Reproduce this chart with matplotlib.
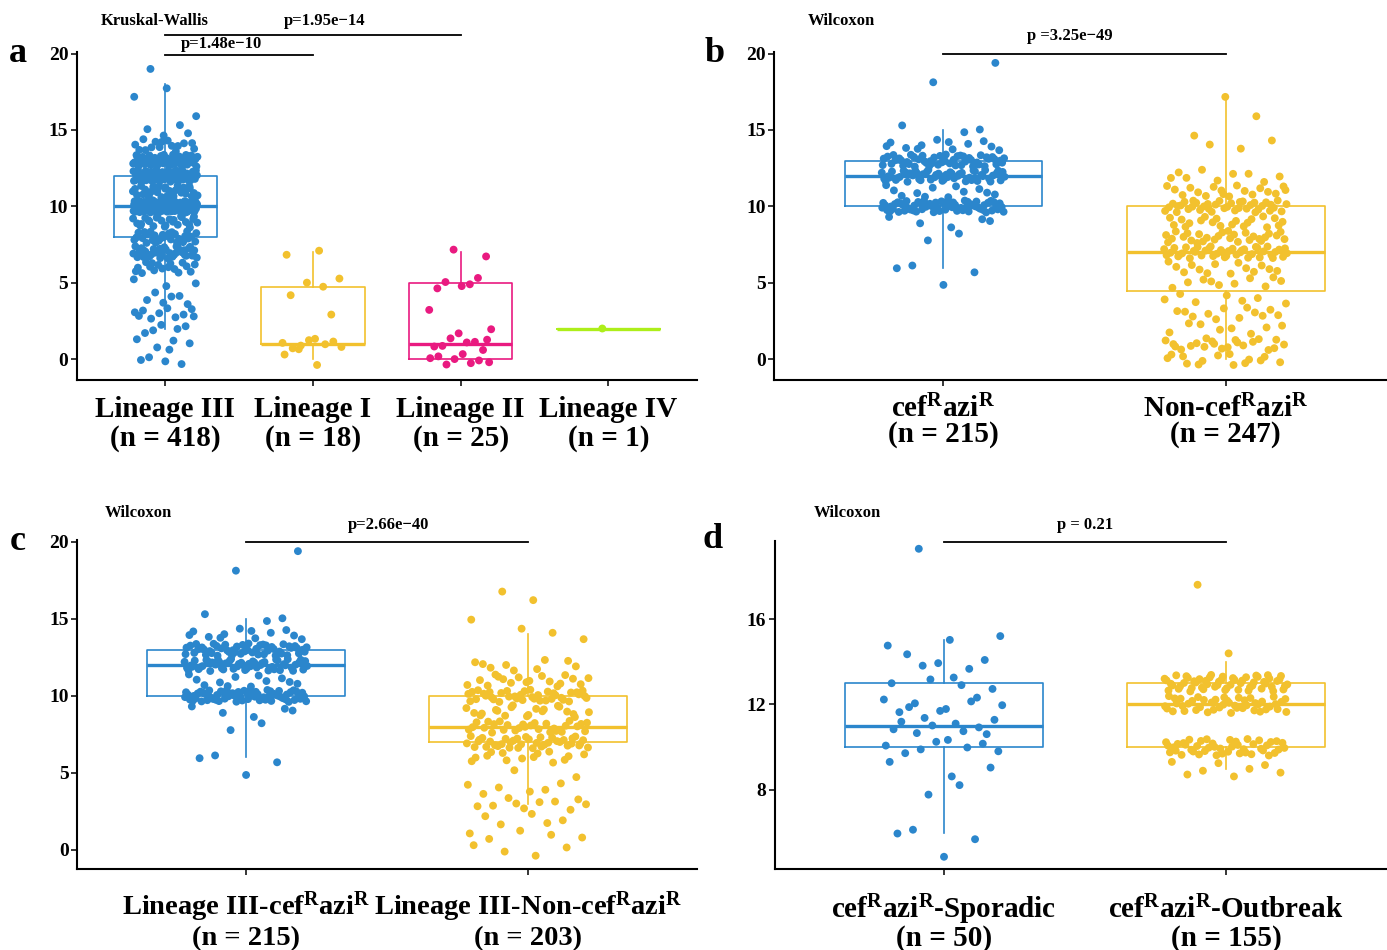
import numpy as np
import matplotlib
matplotlib.use("Agg")
import matplotlib.pyplot as plt
from matplotlib.transforms import blended_transform_factory

plt.rcParams['font.family'] = ['Liberation Serif', 'DejaVu Serif']
plt.rcParams['font.weight'] = 'bold'
plt.rcParams['mathtext.fontset'] = 'custom'
plt.rcParams['mathtext.rm'] = 'Liberation Serif:bold'
plt.rcParams['mathtext.bf'] = 'Liberation Serif:bold'
plt.rcParams['mathtext.it'] = 'Liberation Serif:italic:bold'

# ---------------- data (integer values and their counts) -------------
# Lineage III split by resistance (panel c)
l3_cef_vals = [5, 6, 8, 9, 10, 11, 12, 13, 14, 15, 18, 19]
l3_cef_cnts = [1, 3, 2, 5, 68, 12, 55, 52, 12, 3, 1, 1]          # n = 215
l3_non_vals = [0, 1, 2, 3, 4, 5, 6, 7, 8, 9, 10, 11, 12, 14, 15, 16, 17]
l3_non_cnts = [4, 5, 5, 10, 6, 2, 14, 38, 28, 20, 38, 18, 9, 3, 1, 1, 1]  # n = 203
# Other lineages (panel a)
l1_vals = [0, 1, 3, 4, 5, 7]
l1_cnts = [2, 9, 1, 1, 3, 2]                                     # n = 18
l2_vals = [0, 1, 2, 3, 5, 7]
l2_cnts = [8, 7, 2, 1, 5, 2]                                     # n = 25
l4_vals = [2]
l4_cnts = [1]                                                    # n = 1
# cefRaziR by epidemiology (panel d)
spor_vals = [5, 6, 8, 9, 10, 11, 12, 13, 14, 15, 19]
spor_cnts = [1, 3, 2, 3, 8, 10, 9, 5, 5, 3, 1]                   # n = 50
outb_vals = [9, 10, 12, 13, 14, 18]
outb_cnts = [8, 45, 45, 55, 1, 1]                                # n = 155

SUP = "$^{\\mathrm{R}}$"
lineage_names = ["Lineage III", "Lineage I", "Lineage II", "Lineage IV"]
lineage_n = ["(n = 418)", "(n = 18)", "(n = 25)", "(n = 1)"]
res_names = ["cef" + SUP + "azi" + SUP, "Non-cef" + SUP + "azi" + SUP]
res_n = ["(n = 215)", "(n = 247)"]
l3_names = ["Lineage III-cef" + SUP + "azi" + SUP, "Lineage III-Non-cef" + SUP + "azi" + SUP]
l3_n = ["(n = 215)", "(n = 203)"]
epi_names = ["cef" + SUP + "azi" + SUP + "-Sporadic", "cef" + SUP + "azi" + SUP + "-Outbreak"]
epi_n = ["(n = 50)", "(n = 155)"]

p_a = ["p=1.48e\u221210", "p=1.95e\u221214"]
p_b = "p =3.25e\u221249"
p_c = "p=2.66e\u221240"
p_d = "p = 0.21"

BLUE = "#2B86CC"
YELLOW = "#F2C12E"
PINK = "#E91A80"
GREEN = "#ADEE1A"

W, H = 1387, 950


def expand(vals, cnts):
    return np.repeat(np.asarray(vals, float), cnts)


l3_cef = expand(l3_cef_vals, l3_cef_cnts)
l3_non = expand(l3_non_vals, l3_non_cnts)
l1 = expand(l1_vals, l1_cnts)
l2 = expand(l2_vals, l2_cnts)
l4 = expand(l4_vals, l4_cnts)
l3 = np.sort(np.concatenate([l3_cef, l3_non]))
non_all = np.sort(np.concatenate([l3_non, l1, l2, l4]))
spor = expand(spor_vals, spor_cnts)
outb = expand(outb_vals, outb_cnts)

fig = plt.figure(figsize=(W / 100, H / 100), dpi=100)


def ax_at(left, top, right, bottom):
    return fig.add_axes([left / W, 1 - bottom / H, (right - left) / W, (bottom - top) / H])


def halton(idx, base):
    out = np.zeros(len(idx))
    for j, i in enumerate(idx):
        f, r = 1.0, 0.0
        i = int(i)
        while i > 0:
            f /= base
            r += f * (i % base)
            i //= base
        out[j] = r
    return out


def jitter(values, pos, shift):
    # deterministic display jitter (like geom_jitter: +-0.22 in x, +-0.4 in y)
    k = np.arange(len(values)) + 1 + shift
    gx = halton(k, 2)
    gy = halton(k, 3)
    return pos + (gx - 0.5) * 0.44, values + (gy - 0.5) * 0.8


def panel(ax, groups, colors, names, ns, xlim, ylim, yticks, base1, base2, lsize):
    for i, (g, c) in enumerate(zip(groups, colors)):
        pos = i + 1
        ax.boxplot([g], positions=[pos], widths=0.7, whis=1.5, showfliers=False,
                   patch_artist=False, showcaps=False,
                   boxprops=dict(color=c, linewidth=1.2),
                   whiskerprops=dict(color=c, linewidth=1.2),
                   medianprops=dict(color=c, linewidth=2.4, solid_capstyle='butt'))
        xs, ys = jitter(g, pos, 7 * i)
        ax.scatter(xs, ys, s=32, color=c, edgecolors='none', zorder=3)
    ax.set_xlim(*xlim)
    ax.set_ylim(*ylim)
    ax.set_xticks(range(1, len(groups) + 1))
    ax.set_xticklabels([""] * len(groups))
    tr = blended_transform_factory(ax.transData, fig.transFigure)
    for i, (nm, nn) in enumerate(zip(names, ns)):
        ax.text(i + 1, 1 - base1 / H, nm, transform=tr, ha='center', va='baseline',
                fontsize=lsize, fontweight='bold', clip_on=False)
        ax.text(i + 1, 1 - base2 / H, nn, transform=tr, ha='center', va='baseline',
                fontsize=lsize, fontweight='bold', clip_on=False)
    ax.set_yticks(yticks)
    ax.set_yticklabels([str(t) for t in yticks], fontsize=14, fontweight='bold')
    for s in ['top', 'right']:
        ax.spines[s].set_visible(False)
    for s in ['left', 'bottom']:
        ax.spines[s].set_linewidth(1.5)
    ax.tick_params(axis='both', direction='out', length=4, width=1.1, color='black')
    ax.tick_params(axis='y', pad=2)


def bracket(ax, x1, x2, ypix, text, tx, typix):
    tr = blended_transform_factory(ax.transData, fig.transFigure)
    ax.plot([x1, x2], [1 - ypix / H, 1 - ypix / H], color='black', lw=1.3,
            transform=tr, clip_on=False)
    fig.text(tx / W, 1 - typix / H, text, ha='center', va='center',
             fontsize=12, fontweight='bold')


# panel a
ax_a = ax_at(76.7, 52, 697, 380.3)
panel(ax_a, [l3, l1, l2, l4], [BLUE, YELLOW, PINK, GREEN], lineage_names, lineage_n,
      (0.4, 4.6), (-1.373, 20.1), [0, 5, 10, 15, 20], 417, 446, 21)
bracket(ax_a, 1, 2, 55, p_a[0], 221, 44)
bracket(ax_a, 1, 3, 35, p_a[1], 325, 21)
fig.text(155 / W, 1 - 21 / H, "Kruskal-Wallis", ha='center', va='center',
         fontsize=12, fontweight='bold')
fig.text(18 / W, 1 - 53 / H, "a", ha='center', va='center', fontsize=26, fontweight='bold')

# panel b
ax_b = ax_at(774, 52, 1395.2, 380.3)
panel(ax_b, [l3_cef, non_all], [BLUE, YELLOW], res_names, res_n,
      (0.4, 2.6), (-1.373, 20.1), [0, 5, 10, 15, 20], 417, 442, 21)
bracket(ax_b, 1, 2, 54, p_b, 1070, 36)
fig.text(841 / W, 1 - 21 / H, "Wilcoxon", ha='center', va='center',
         fontsize=12, fontweight='bold')
fig.text(715 / W, 1 - 53 / H, "b", ha='center', va='center', fontsize=26, fontweight='bold')

# panel c
ax_c = ax_at(77, 540, 697, 869.3)
panel(ax_c, [l3_cef, l3_non], [BLUE, YELLOW], l3_names, l3_n,
      (0.4, 2.6), (-1.253, 20.11), [0, 5, 10, 15, 20], 915, 945, 20.5)
bracket(ax_c, 1, 2, 541.5, p_c, 389, 525)
fig.text(138 / W, 1 - 513 / H, "Wilcoxon", ha='center', va='center',
         fontsize=12, fontweight='bold')
fig.text(18 / W, 1 - 541 / H, "c", ha='center', va='center', fontsize=26, fontweight='bold')

# panel d
ax_d = ax_at(774.7, 540.7, 1395.5, 869.3)
panel(ax_d, [spor, outb], [BLUE, YELLOW], epi_names, epi_n,
      (0.4, 2.6), (4.28, 19.67), [8, 12, 16], 918, 946, 21)
bracket(ax_d, 1, 2, 542, p_d, 1085, 525)
fig.text(847 / W, 1 - 513 / H, "Wilcoxon", ha='center', va='center',
         fontsize=12, fontweight='bold')
fig.text(713 / W, 1 - 540 / H, "d", ha='center', va='center', fontsize=26, fontweight='bold')

fig.savefig("out.png", dpi=100, facecolor='white')
